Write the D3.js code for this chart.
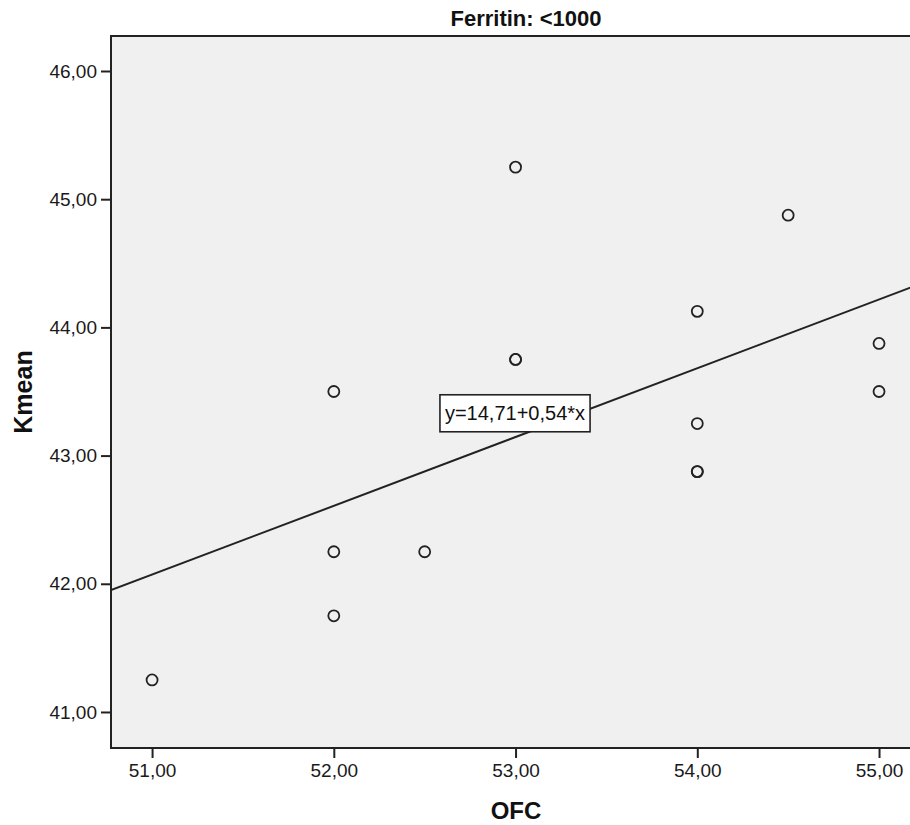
<!DOCTYPE html>
<html>
<head>
<meta charset="utf-8">
<script src="https://cdn.jsdelivr.net/npm/d3@7"></script>
<style>
  body { margin: 0; background: #fff; }
  svg { display: block; font-family: "Liberation Sans", Arial, sans-serif; }
</style>
</head>
<body>
<script>
// data (OFC vs Kmean, Ferritin < 1000)
var ofc   = [51, 52, 52, 52, 52.5, 53, 53, 53, 54, 54, 54, 54, 54.5, 55, 55];
var kmean = [41.25, 43.5, 42.25, 41.75, 42.25, 45.25, 43.75, 43.75, 44.125, 43.25, 42.875, 42.875, 44.875, 43.875, 43.5];

// fit line as drawn (label shows rounded coefficients)
var fitIntercept = 14.71,
    fitSlope = 0.5365;
var fitLabel = "y=14,71+0,54*x";

var xTicks = [51, 52, 53, 54, 55],
    yTicks = [41, 42, 43, 44, 45, 46];

var title = "Ferritin: <1000",
    xTitle = "OFC",
    yTitle = "Kmean";

var width = 910,
    height = 825;

var plot = { left: 111, top: 36, right: 941, bottom: 748 };

var svg = d3.select("body")
    .append("svg")
    .attr("width", width)
    .attr("height", height);

var x = d3.scaleLinear()
    .domain([50.774, 55.341])
    .range([plot.left, plot.right]);

var y = d3.scaleLinear()
    .domain([40.719, 46.273])
    .range([plot.bottom, plot.top]);

var fmt = function (d) { return d3.format(".2f")(d).replace(".", ","); };

// plot background
svg.append("rect")
    .attr("x", plot.left)
    .attr("y", plot.top)
    .attr("width", plot.right - plot.left)
    .attr("height", plot.bottom - plot.top)
    .attr("fill", "#f0f0f0")
    .attr("stroke", "#222")
    .attr("stroke-width", 2);

// axes
var xAxis = svg.append("g")
    .attr("transform", "translate(0," + plot.bottom + ")")
    .call(d3.axisBottom(x).tickValues(xTicks).tickFormat(fmt).tickSize(10).tickPadding(6));

var yAxis = svg.append("g")
    .attr("transform", "translate(" + plot.left + ",0)")
    .call(d3.axisLeft(y).tickValues(yTicks).tickFormat(fmt).tickSize(10).tickPadding(4));

[xAxis, yAxis].forEach(function (a) {
    a.select(".domain").remove();
    a.selectAll(".tick line").attr("stroke", "#222").attr("stroke-width", 2);
    a.selectAll(".tick text")
        .attr("fill", "#1a1a1a")
        .style("font-size", "19px")
        .style("font-family", "'Liberation Sans', Arial, sans-serif");
});

// clip to plot
svg.append("clipPath").attr("id", "clip")
    .append("rect")
    .attr("x", plot.left)
    .attr("y", plot.top)
    .attr("width", plot.right - plot.left)
    .attr("height", plot.bottom - plot.top);

var g = svg.append("g").attr("clip-path", "url(#clip)");

// fit line
var xd = x.domain();
g.append("line")
    .attr("x1", x(xd[0]))
    .attr("y1", y(fitIntercept + fitSlope * xd[0]))
    .attr("x2", x(xd[1]))
    .attr("y2", y(fitIntercept + fitSlope * xd[1]))
    .attr("stroke", "#222")
    .attr("stroke-width", 2);

// points
g.selectAll("circle.pt")
    .data(ofc.map(function (d, i) { return [d, kmean[i]]; }))
    .enter().append("circle")
    .attr("class", "pt")
    .attr("cx", function (d) { return x(d[0]); })
    .attr("cy", function (d) { return y(d[1]); })
    .attr("r", 5.5)
    .attr("fill", "none")
    .attr("stroke", "#222")
    .attr("stroke-width", 1.8);

// equation label
var lab = svg.append("g")
    .attr("transform", "translate(" + x(52.997) + "," + y(43.33) + ")");

var labText = lab.append("text")
    .attr("text-anchor", "middle")
    .attr("dy", "0.36em")
    .style("font-size", "20px")
    .attr("fill", "#111")
    .text(fitLabel);

var bb = labText.node().getBBox();
lab.insert("rect", "text")
    .attr("x", bb.x - 5)
    .attr("y", -18.5)
    .attr("width", bb.width + 10)
    .attr("height", 37)
    .attr("fill", "#fff")
    .attr("stroke", "#222")
    .attr("stroke-width", 1.6);

// titles
svg.append("text")
    .attr("x", 526)
    .attr("y", 26)
    .attr("text-anchor", "middle")
    .style("font-size", "22px")
    .style("font-weight", "bold")
    .attr("fill", "#111")
    .text(title);

svg.append("text")
    .attr("x", 516)
    .attr("y", 819)
    .attr("text-anchor", "middle")
    .style("font-size", "24px")
    .style("font-weight", "bold")
    .attr("fill", "#111")
    .text(xTitle);

svg.append("text")
    .attr("transform", "translate(32,392) rotate(-90)")
    .attr("text-anchor", "middle")
    .style("font-size", "25px")
    .style("font-weight", "bold")
    .attr("fill", "#111")
    .text(yTitle);
</script>
</body>
</html>
